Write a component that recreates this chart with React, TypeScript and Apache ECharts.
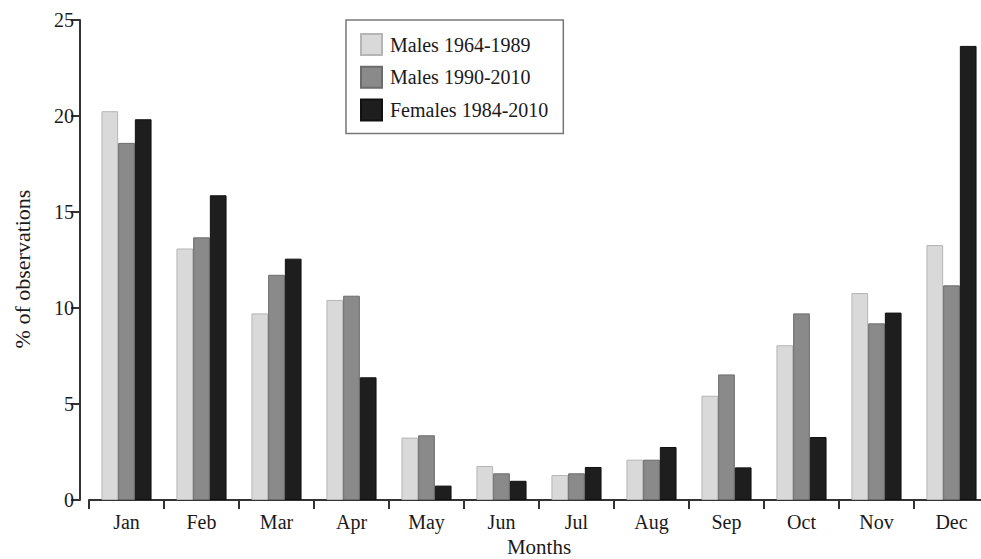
import React, { useEffect, useRef } from "react";
import * as echarts from "echarts";

const months = ["Jan", "Feb", "Mar", "Apr", "May", "Jun", "Jul", "Aug", "Sep", "Oct", "Nov", "Dec"];
const seriesNames = ["Males 1964-1989", "Males 1990-2010", "Females 1984-2010"];
const males1964 = [20.25, 13.1, 9.72, 10.42, 3.25, 1.77, 1.3, 2.1, 5.43, 8.06, 10.78, 13.28];
const males1990 = [18.6, 13.68, 11.73, 10.64, 3.37, 1.39, 1.39, 2.1, 6.54, 9.72, 9.2, 11.18];
const females1984 = [19.83, 15.87, 12.57, 6.39, 0.75, 1.0, 1.72, 2.76, 1.7, 3.28, 9.76, 23.65];
const yTicks = [0, 5, 10, 15, 20, 25];

const FONT = "'Liberation Serif', 'Times New Roman', serif";

export default function App() {
  const ref = useRef<HTMLDivElement>(null);
  useEffect(() => {
    if (!ref.current) return;
    const chart = echarts.init(ref.current, null, { renderer: "svg" });
    const fills = ["#d9d9d9", "#8a8a8a", "#1e1e1e"];
    const borders = ["#b5b5b5", "#6c6c6c", "#111111"];
    const data = [males1964, males1990, females1984];
    chart.setOption({
      animation: false,
      backgroundColor: "#ffffff",
      textStyle: { fontFamily: FONT },
      legend: {
        orient: "vertical",
        left: 346,
        top: 20,
        width: 220,
        padding: [13, 15, 12, 14],
        borderColor: "#777777",
        borderWidth: 1.5,
        itemWidth: 21,
        itemHeight: 21,
        itemGap: 9.7,
        icon: "rect",
        textStyle: { fontFamily: FONT, fontSize: 20, color: "#1a1a1a", padding: [0, 0, 0, 3] },
        data: seriesNames,
      },
      graphic: [
        {
          type: "text",
          x: 22,
          y: 269,
          rotation: Math.PI / 2,
          style: {
            text: "% of observations",
            font: "22px " + FONT,
            fill: "#1a1a1a",
            align: "center",
            verticalAlign: "middle",
          },
        },
      ],
      grid: { left: 89, right: -8, top: 20, bottom: 59, containLabel: false, outerBoundsMode: "none" },
      xAxis: {
        type: "category",
        data: months,
        name: "Months",
        nameLocation: "middle",
        nameGap: 31,
        nameTextStyle: { fontFamily: FONT, fontSize: 21, color: "#1a1a1a" },
        axisLine: { show: true, lineStyle: { color: "#333333", width: 2 } },
        axisTick: { show: true, length: 9, lineStyle: { color: "#333333", width: 2 } },
        axisLabel: { fontFamily: FONT, fontSize: 20, color: "#1a1a1a", margin: 12 },
        splitLine: { show: false },
      },
      yAxis: {
        type: "value",
        min: yTicks[0],
        max: yTicks[yTicks.length - 1],
        interval: 5,
        offset: 9,
        axisLine: { show: true, lineStyle: { color: "#333333", width: 2 } },
        axisTick: { show: true, length: 9, lineStyle: { color: "#333333", width: 2 } },
        axisLabel: { fontFamily: FONT, fontSize: 20, color: "#1a1a1a", margin: 6 },
        splitLine: { show: false },
      },
      series: seriesNames.map((name, i) => ({
        name,
        type: "bar",
        data: data[i],
        barWidth: 16.7,
        barGap: "0%",
        barCategoryGap: "33%",
        itemStyle: { color: fills[i], borderColor: borders[i], borderWidth: 1 },
      })),
    });
    return () => chart.dispose();
  }, []);
  return (
    <div
      ref={ref}
      style={{ position: "absolute", left: 0, top: 0, width: 981, height: 559, overflow: "hidden" }}
    />
  );
}
